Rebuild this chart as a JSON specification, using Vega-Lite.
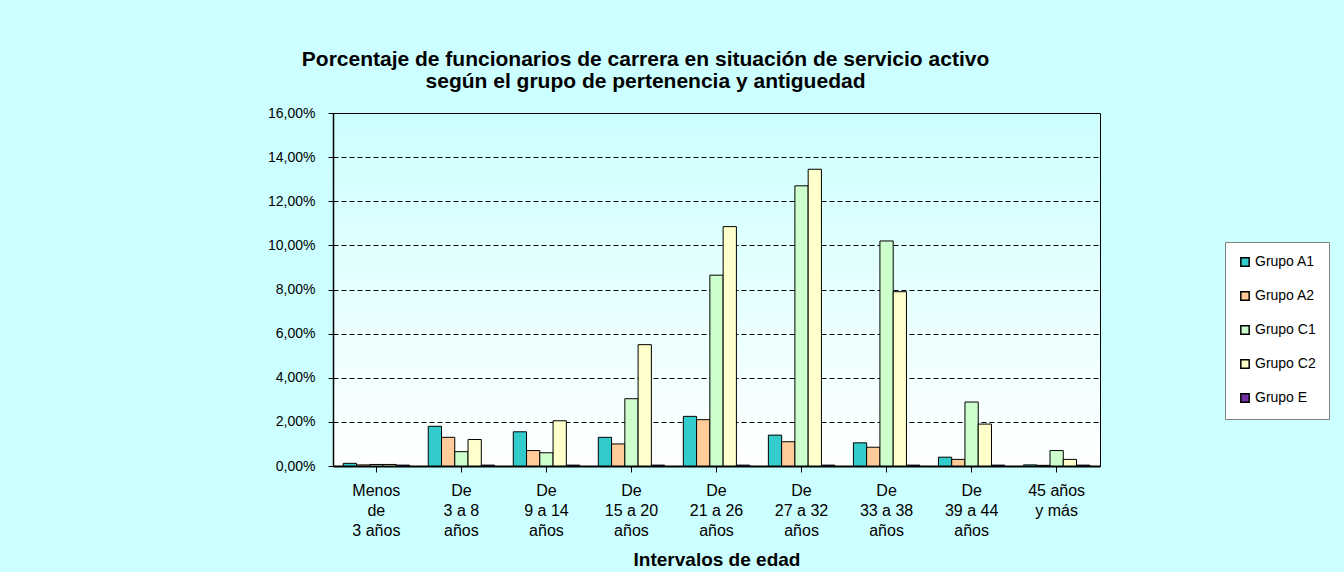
{
  "$schema": "https://vega.github.io/schema/vega-lite/v6.json",
  "width": 767,
  "height": 353,
  "autosize": {"type": "none"},
  "padding": {"left": 333, "top": 113, "right": 244, "bottom": 106},
  "background": "#CCFFFF",
  "title": {
    "text": ["Porcentaje de funcionarios de carrera en situación de servicio activo", "según el  grupo de pertenencia  y antiguedad"],
    "font": "Liberation Sans",
    "fontSize": 21,
    "fontWeight": "bold",
    "color": "#000000",
    "anchor": "middle",
    "dx": -71,
    "offset": 14,
    "lineHeight": 22
  },
  "data": {
    "values": [
      {"interval": "Menos|de|3 años", "group": "Grupo A1", "pct": 0.12},
      {"interval": "Menos|de|3 años", "group": "Grupo A2", "pct": 0.05},
      {"interval": "Menos|de|3 años", "group": "Grupo C1", "pct": 0.07},
      {"interval": "Menos|de|3 años", "group": "Grupo C2", "pct": 0.07},
      {"interval": "Menos|de|3 años", "group": "Grupo E", "pct": 0.04},
      {"interval": "De|3 a 8|años", "group": "Grupo A1", "pct": 1.8},
      {"interval": "De|3 a 8|años", "group": "Grupo A2", "pct": 1.3},
      {"interval": "De|3 a 8|años", "group": "Grupo C1", "pct": 0.65},
      {"interval": "De|3 a 8|años", "group": "Grupo C2", "pct": 1.2},
      {"interval": "De|3 a 8|años", "group": "Grupo E", "pct": 0.04},
      {"interval": "De|9 a 14|años", "group": "Grupo A1", "pct": 1.55},
      {"interval": "De|9 a 14|años", "group": "Grupo A2", "pct": 0.7},
      {"interval": "De|9 a 14|años", "group": "Grupo C1", "pct": 0.6},
      {"interval": "De|9 a 14|años", "group": "Grupo C2", "pct": 2.05},
      {"interval": "De|9 a 14|años", "group": "Grupo E", "pct": 0.04},
      {"interval": "De|15 a 20|años", "group": "Grupo A1", "pct": 1.3},
      {"interval": "De|15 a 20|años", "group": "Grupo A2", "pct": 1.0},
      {"interval": "De|15 a 20|años", "group": "Grupo C1", "pct": 3.05},
      {"interval": "De|15 a 20|años", "group": "Grupo C2", "pct": 5.5},
      {"interval": "De|15 a 20|años", "group": "Grupo E", "pct": 0.04},
      {"interval": "De|21 a 26|años", "group": "Grupo A1", "pct": 2.25},
      {"interval": "De|21 a 26|años", "group": "Grupo A2", "pct": 2.1},
      {"interval": "De|21 a 26|años", "group": "Grupo C1", "pct": 8.65},
      {"interval": "De|21 a 26|años", "group": "Grupo C2", "pct": 10.85},
      {"interval": "De|21 a 26|años", "group": "Grupo E", "pct": 0.04},
      {"interval": "De|27 a 32|años", "group": "Grupo A1", "pct": 1.4},
      {"interval": "De|27 a 32|años", "group": "Grupo A2", "pct": 1.1},
      {"interval": "De|27 a 32|años", "group": "Grupo C1", "pct": 12.7},
      {"interval": "De|27 a 32|años", "group": "Grupo C2", "pct": 13.45},
      {"interval": "De|27 a 32|años", "group": "Grupo E", "pct": 0.04},
      {"interval": "De|33 a 38|años", "group": "Grupo A1", "pct": 1.05},
      {"interval": "De|33 a 38|años", "group": "Grupo A2", "pct": 0.85},
      {"interval": "De|33 a 38|años", "group": "Grupo C1", "pct": 10.2},
      {"interval": "De|33 a 38|años", "group": "Grupo C2", "pct": 7.9},
      {"interval": "De|33 a 38|años", "group": "Grupo E", "pct": 0.04},
      {"interval": "De|39 a 44|años", "group": "Grupo A1", "pct": 0.4},
      {"interval": "De|39 a 44|años", "group": "Grupo A2", "pct": 0.3},
      {"interval": "De|39 a 44|años", "group": "Grupo C1", "pct": 2.9},
      {"interval": "De|39 a 44|años", "group": "Grupo C2", "pct": 1.9},
      {"interval": "De|39 a 44|años", "group": "Grupo E", "pct": 0.04},
      {"interval": "45 años|y más", "group": "Grupo A1", "pct": 0.05},
      {"interval": "45 años|y más", "group": "Grupo A2", "pct": 0.03},
      {"interval": "45 años|y más", "group": "Grupo C1", "pct": 0.7},
      {"interval": "45 años|y más", "group": "Grupo C2", "pct": 0.3},
      {"interval": "45 años|y más", "group": "Grupo E", "pct": 0.04}
    ]
  },
  "mark": {"type": "bar", "stroke": "#000000", "strokeWidth": 1},
  "encoding": {
    "x": {
      "field": "interval",
      "type": "nominal",
      "sort": ["Menos|de|3 años", "De|3 a 8|años", "De|9 a 14|años", "De|15 a 20|años", "De|21 a 26|años", "De|27 a 32|años", "De|33 a 38|años", "De|39 a 44|años", "45 años|y más"],
      "scale": {"paddingInner": 0.22, "paddingOuter": 0.12},
      "axis": {
        "title": "Intervalos de edad",
        "titleFont": "Liberation Sans",
        "titleFontSize": 19,
        "titleFontWeight": "bold",
        "titleColor": "#000000",
        "titlePadding": 12,
        "labelExpr": "split(datum.label, '|')",
        "labelAngle": 0,
        "labelFont": "Liberation Sans",
        "labelFontSize": 16,
        "labelColor": "#000000",
        "labelLineHeight": 20,
        "labelPadding": 10,
        "tickColor": "#000000",
        "tickSize": 6,
        "domainColor": "#000000",
        "domainWidth": 2,
        "grid": false
      }
    },
    "xOffset": {
      "field": "group",
      "type": "nominal",
      "sort": ["Grupo A1", "Grupo A2", "Grupo C1", "Grupo C2", "Grupo E"]
    },
    "y": {
      "field": "pct",
      "type": "quantitative",
      "scale": {"domain": [0, 16], "nice": false},
      "axis": {
        "title": null,
        "values": [0, 2, 4, 6, 8, 10, 12, 14, 16],
        "labelExpr": "replace(format(datum.value, '.2f'), '.', ',') + '%'",
        "labelFont": "Liberation Sans",
        "labelFontSize": 14,
        "labelColor": "#000000",
        "labelPadding": 13,
        "tickColor": "#000000",
        "tickSize": 5,
        "domainColor": "#000000",
        "domainWidth": 1.5,
        "grid": true,
        "gridColor": "#000000",
        "gridDash": [5, 3],
        "gridWidth": 1.2
      }
    },
    "color": {
      "field": "group",
      "type": "nominal",
      "sort": ["Grupo A1", "Grupo A2", "Grupo C1", "Grupo C2", "Grupo E"],
      "scale": {
        "domain": ["Grupo A1", "Grupo A2", "Grupo C1", "Grupo C2", "Grupo E"],
        "range": ["#33CCCC", "#FFCC99", "#CCFFCC", "#FFFFCC", "#7030A0"]
      },
      "legend": {
        "title": null,
        "orient": "none",
        "legendX": 892,
        "legendY": 129,
        "fillColor": "#FFFFFF",
        "strokeColor": "#808080",
        "padding": 13,
        "symbolType": "square",
        "symbolSize": 70,
        "symbolStrokeColor": "#000000",
        "symbolStrokeWidth": 1.5,
        "labelFont": "Liberation Sans",
        "labelFontSize": 14,
        "labelColor": "#000000",
        "labelOffset": 3,
        "rowPadding": 18
      }
    }
  },
  "config": {
    "view": {
      "stroke": "#000000",
      "strokeWidth": 1,
      "fill": {
        "gradient": "linear",
        "x1": 0, "y1": 0, "x2": 0, "y2": 1,
        "stops": [
          {"offset": 0, "color": "#CCFFFF"},
          {"offset": 1, "color": "#FFFFFF"}
        ]
      }
    }
  }
}
